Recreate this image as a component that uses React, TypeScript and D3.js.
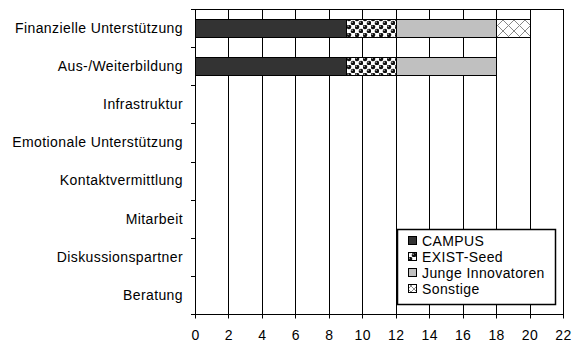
import React, { useEffect, useRef } from 'react';
import * as d3 from 'd3';

const categories = [
  'Finanzielle Unterstützung',
  'Aus-/Weiterbildung',
  'Infrastruktur',
  'Emotionale Unterstützung',
  'Kontaktvermittlung',
  'Mitarbeit',
  'Diskussionspartner',
  'Beratung',
];

const seriesNames = ['CAMPUS', 'EXIST-Seed', 'Junge Innovatoren', 'Sonstige'];

const campus = [9, 9, 0, 0, 0, 0, 0, 0];
const existSeed = [3, 3, 0, 0, 0, 0, 0, 0];
const jungeInnovatoren = [6, 6, 0, 0, 0, 0, 0, 0];
const sonstige = [2, 0, 0, 0, 0, 0, 0, 0];

const xTicks = [0, 2, 4, 6, 8, 10, 12, 14, 16, 18, 20, 22];

const fills = ['#333333', 'url(#pSeed)', '#c0c0c0', 'url(#pCross)'];
const legendFills = ['#333333', 'url(#pSeed)', '#c0c0c0', 'url(#pCrossSm)'];

const Chart: React.FC = () => {
  const svgRef = useRef<SVGSVGElement | null>(null);

  useEffect(() => {
    const svg = d3.select(svgRef.current);
    svg.selectAll('*').remove();

    const W = 577;
    const H = 345;
    const margin = { top: 9, right: 14, bottom: 31, left: 195 };
    const width = W - margin.left - margin.right;
    const height = H - margin.top - margin.bottom;
    const font = '"Liberation Sans", Arial, sans-serif';

    svg.attr('width', W).attr('height', H).attr('viewBox', `0 0 ${W} ${H}`);

    // patterns
    const defs = svg.append('defs');
    const seed = defs
      .append('pattern')
      .attr('id', 'pSeed')
      .attr('patternUnits', 'userSpaceOnUse')
      .attr('width', 8)
      .attr('height', 8);
    seed.append('rect').attr('width', 8).attr('height', 8).attr('fill', '#fff');
    [
      [2, 2],
      [6, 6],
    ].forEach(([cx, cy]) => {
      seed.append('circle').attr('cx', cx).attr('cy', cy).attr('r', 2.3).attr('fill', '#111');
      seed.append('circle').attr('cx', cx - 0.8).attr('cy', cy - 0.8).attr('r', 0.7).attr('fill', '#bbb');
    });

    const crossPattern = (id: string, s: number) => {
      const p = defs
        .append('pattern')
        .attr('id', id)
        .attr('patternUnits', 'userSpaceOnUse')
        .attr('width', s)
        .attr('height', s);
      p.append('rect').attr('width', s).attr('height', s).attr('fill', '#fff');
      p.append('path').attr('d', `M0,0L${s},${s}M${s},0L0,${s}`).attr('stroke', '#888').attr('stroke-width', 1);
    };
    crossPattern('pCross', 11);
    crossPattern('pCrossSm', 6);

    const g = svg.append('g').attr('transform', `translate(${margin.left},${margin.top})`);

    const x = d3.scaleLinear().domain([0, 22]).range([0, width]);
    const y = d3
      .scaleBand()
      .domain(categories)
      .range([0, height])
      .paddingInner(0.53)
      .paddingOuter(0.265);

    // vertical grid
    g.selectAll('.grid')
      .data(xTicks.slice(1, -1))
      .enter()
      .append('line')
      .attr('x1', d => Math.round(x(d)) + 0.5)
      .attr('x2', d => Math.round(x(d)) + 0.5)
      .attr('y1', 0)
      .attr('y2', height)
      .attr('stroke', '#000')
      .attr('stroke-width', 1);

    // plot border
    g.append('rect')
      .attr('x', 0.5)
      .attr('y', 0.5)
      .attr('width', width)
      .attr('height', height)
      .attr('fill', 'none')
      .attr('stroke', '#000');

    // stacked bars
    const rows = categories.map((c, i) => ({
      cat: c,
      CAMPUS: campus[i],
      'EXIST-Seed': existSeed[i],
      'Junge Innovatoren': jungeInnovatoren[i],
      Sonstige: sonstige[i],
    }));
    const stacked = d3.stack<any>().keys(seriesNames)(rows);

    stacked.forEach((layer, si) => {
      g.selectAll(`.bar${si}`)
        .data(layer.filter(d => d[1] - d[0] > 0))
        .enter()
        .append('rect')
        .attr('x', d => Math.round(x(d[0])) + 0.5)
        .attr('y', d => Math.round(y(d.data.cat) as number) + 0.5)
        .attr('width', d => Math.round(x(d[1])) - Math.round(x(d[0])))
        .attr('height', Math.round(y.bandwidth()))
        .attr('fill', fills[si])
        .attr('stroke', '#000')
        .attr('stroke-width', 1);
    });

    // x axis
    const xAxis = g.append('g').attr('transform', `translate(0,${height + 0.5})`);
    xAxis.append('line').attr('x1', -4).attr('x2', width).attr('stroke', '#000');
    xAxis
      .selectAll('.t')
      .data(xTicks)
      .enter()
      .append('line')
      .attr('x1', d => Math.round(x(d)) + 0.5)
      .attr('x2', d => Math.round(x(d)) + 0.5)
      .attr('y1', 0)
      .attr('y2', 4)
      .attr('stroke', '#000');
    xAxis
      .selectAll('.lbl')
      .data(xTicks)
      .enter()
      .append('text')
      .attr('x', d => x(d) + 0.5)
      .attr('y', 25)
      .attr('text-anchor', 'middle')
      .attr('font-family', font)
      .attr('font-size', 14)
      .attr('letter-spacing', 0.4)
      .text(d => String(d));

    // y axis
    const yAxis = g.append('g');
    yAxis.append('line').attr('x1', 0.5).attr('x2', 0.5).attr('y1', 0).attr('y2', height + 4).attr('stroke', '#000');
    const step = y.step();
    yAxis
      .selectAll('.yt')
      .data(d3.range(categories.length))
      .enter()
      .append('line')
      .attr('x1', -4)
      .attr('x2', 0)
      .attr('y1', i => Math.round(i * step) + 0.5)
      .attr('y2', i => Math.round(i * step) + 0.5)
      .attr('stroke', '#000');
    yAxis
      .selectAll('.ylbl')
      .data(categories)
      .enter()
      .append('text')
      .attr('x', -12)
      .attr('y', d => (y(d) as number) + y.bandwidth() / 2)
      .attr('dy', '0.35em')
      .attr('text-anchor', 'end')
      .attr('font-family', font)
      .attr('font-size', 14)
      .attr('letter-spacing', 0.4)
      .text(d => d);

    // legend
    const lg = svg.append('g').attr('transform', 'translate(397,229)');
    lg.append('rect')
      .attr('x', 0.5)
      .attr('y', 0.5)
      .attr('width', 158)
      .attr('height', 75)
      .attr('fill', '#fff')
      .attr('stroke', '#000')
      .attr('stroke-width', 1.5);
    seriesNames.forEach((name, i) => {
      const row = lg.append('g').attr('transform', `translate(11,${12 + i * 16})`);
      row.append('rect')
        .attr('x', 0.5)
        .attr('y', -4.5)
        .attr('width', 8)
        .attr('height', 8)
        .attr('fill', legendFills[i])
        .attr('stroke', '#000');
      row.append('text')
        .attr('x', 14)
        .attr('y', 0)
        .attr('dy', '0.35em')
        .attr('font-family', font)
        .attr('font-size', 14)
        .attr('letter-spacing', 0.4)
        .text(name);
    });
  }, []);

  return <svg ref={svgRef} style={{ position: 'absolute', left: 0, top: 0, background: '#fff' }} />;
};

export default function App() {
  return <Chart />;
}
